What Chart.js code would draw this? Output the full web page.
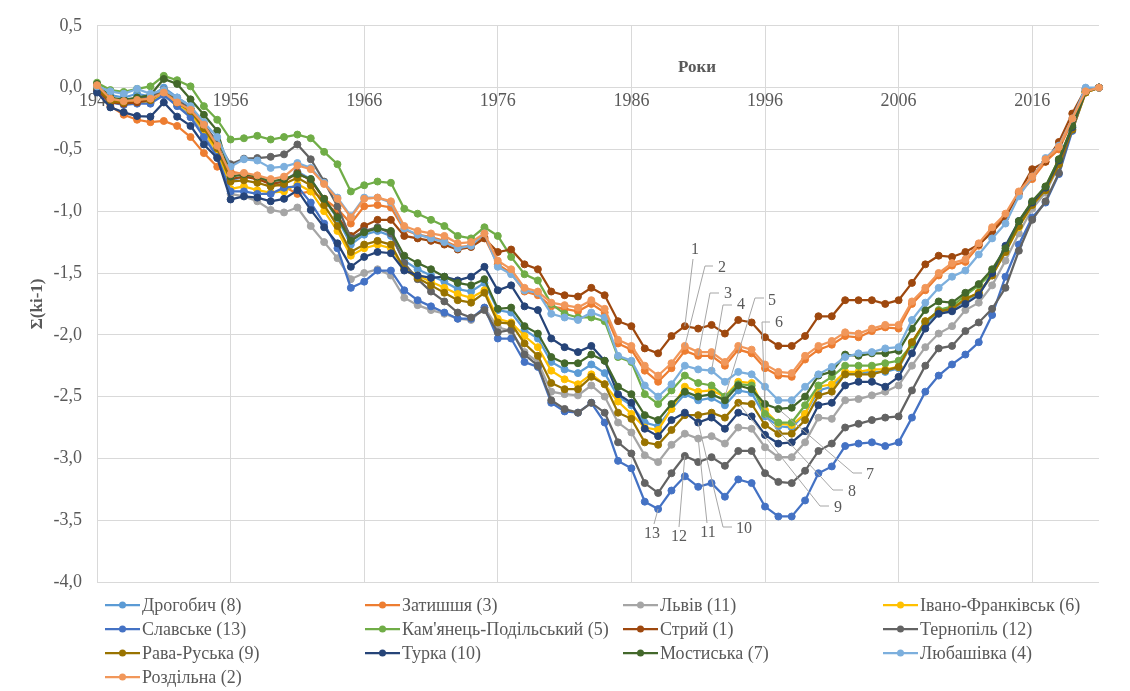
<!DOCTYPE html>
<html lang="uk">
<head>
<meta charset="utf-8">
<title>Σ(ki-1)</title>
<script src="https://cdn.jsdelivr.net/npm/chart.js@4.4.1/dist/chart.umd.min.js"></script>
<style>
  html, body { margin: 0; padding: 0; background: #fff; }
  #wrap { width: 1130px; height: 691px; position: relative; }
</style>
</head>
<body>
<div id="wrap"><canvas id="chart"></canvas></div>
<script>
// years on the category axis
const years = [
  1946, 1947, 1948, 1949, 1950, 1951, 1952, 1953, 1954, 1955,
  1956, 1957, 1958, 1959, 1960, 1961, 1962, 1963, 1964, 1965,
  1966, 1967, 1968, 1969, 1970, 1971, 1972, 1973, 1974, 1975,
  1976, 1977, 1978, 1979, 1980, 1981, 1982, 1983, 1984, 1985,
  1986, 1987, 1988, 1989, 1990, 1991, 1992, 1993, 1994, 1995,
  1996, 1997, 1998, 1999, 2000, 2001, 2002, 2003, 2004, 2005,
  2006, 2007, 2008, 2009, 2010, 2011, 2012, 2013, 2014, 2015,
  2016, 2017, 2018, 2019, 2020, 2021
];

// cumulative sums of (ki-1) per station
const drohobych = [
  0.01, -0.06, -0.08, -0.05, -0.07, 0.00, -0.08, -0.15, -0.30, -0.45,
  -0.75, -0.72, -0.73, -0.78, -0.76, -0.68, -0.74, -0.90, -1.06, -1.27,
  -1.19, -1.16, -1.20, -1.40, -1.47, -1.52, -1.57, -1.63, -1.65, -1.58,
  -1.80, -1.82, -1.96, -2.03, -2.22, -2.28, -2.31, -2.24, -2.31, -2.50,
  -2.57, -2.71, -2.74, -2.60, -2.48, -2.53, -2.51, -2.57, -2.45, -2.47,
  -2.66, -2.74, -2.75, -2.64, -2.45, -2.42, -2.32, -2.31, -2.30, -2.30,
  -2.27, -2.07, -1.91, -1.82, -1.80, -1.72, -1.67, -1.52, -1.32, -1.12,
  -0.94, -0.82, -0.60, -0.33, -0.03, 0.00
];
const zatyshshia = [
  0.02, -0.15, -0.22, -0.26, -0.28, -0.27, -0.31, -0.40, -0.53, -0.64,
  -0.68, -0.70, -0.73, -0.78, -0.80, -0.86, -0.84, -0.90, -0.98, -1.10,
  -0.96, -0.95, -0.97, -1.15, -1.19, -1.21, -1.24, -1.29, -1.28, -1.21,
  -1.43, -1.50, -1.65, -1.68, -1.77, -1.79, -1.81, -1.75, -1.82, -2.07,
  -2.12, -2.29, -2.38, -2.27, -2.13, -2.17, -2.17, -2.25, -2.12, -2.15,
  -2.27, -2.33, -2.34, -2.20, -2.12, -2.08, -2.01, -2.02, -1.97, -1.94,
  -1.95, -1.75, -1.64, -1.52, -1.44, -1.41, -1.28, -1.15, -1.04, -0.86,
  -0.74, -0.60, -0.50, -0.27, -0.04, 0.00
];
const lviv = [
  0.00, -0.10, -0.12, -0.11, -0.12, -0.06, -0.14, -0.22, -0.38, -0.55,
  -0.86, -0.88, -0.92, -0.99, -1.01, -0.97, -1.12, -1.25, -1.38, -1.55,
  -1.50, -1.47, -1.52, -1.70, -1.76, -1.80, -1.83, -1.87, -1.88, -1.78,
  -1.94, -1.97, -2.14, -2.22, -2.46, -2.48, -2.49, -2.41, -2.50, -2.71,
  -2.79, -2.975, -3.03, -2.89, -2.80, -2.84, -2.82, -2.88, -2.75, -2.76,
  -2.91, -2.99, -2.99, -2.87, -2.67, -2.68, -2.53, -2.52, -2.49, -2.46,
  -2.41, -2.25, -2.10, -1.99, -1.93, -1.80, -1.74, -1.60, -1.40, -1.18,
  -0.98, -0.85, -0.63, -0.35, -0.04, 0.00
];
const ivanoFrankivsk = [
  0.00, -0.10, -0.13, -0.11, -0.12, -0.05, -0.13, -0.20, -0.35, -0.52,
  -0.82, -0.80, -0.83, -0.85, -0.84, -0.78, -0.84, -1.00, -1.16, -1.36,
  -1.30, -1.27, -1.30, -1.46, -1.52, -1.57, -1.62, -1.67, -1.70, -1.64,
  -1.87, -1.90, -2.01, -2.10, -2.29, -2.36, -2.40, -2.32, -2.40, -2.54,
  -2.64, -2.75, -2.77, -2.60, -2.42, -2.46, -2.45, -2.50, -2.38, -2.39,
  -2.61, -2.72, -2.73, -2.64, -2.42, -2.40, -2.30, -2.30, -2.28, -2.28,
  -2.26, -2.06, -1.89, -1.81, -1.79, -1.71, -1.66, -1.52, -1.33, -1.13,
  -0.95, -0.83, -0.62, -0.34, -0.04, 0.00
];
const slavske = [
  -0.02, -0.12, -0.14, -0.13, -0.13, -0.06, -0.15, -0.24, -0.40, -0.56,
  -0.84, -0.84, -0.86, -0.86, -0.81, -0.80, -0.93, -1.10, -1.30, -1.62,
  -1.57, -1.48, -1.48, -1.64, -1.72, -1.77, -1.82, -1.87, -1.87, -1.78,
  -2.03, -2.03, -2.22, -2.26, -2.55, -2.62, -2.63, -2.55, -2.71, -3.02,
  -3.08, -3.35, -3.41, -3.26, -3.145, -3.23, -3.20, -3.31, -3.17, -3.20,
  -3.39, -3.47, -3.47, -3.34, -3.12, -3.065, -2.90, -2.88, -2.87, -2.90,
  -2.87, -2.67, -2.46, -2.33, -2.24, -2.16, -2.06, -1.84, -1.53, -1.27,
  -1.05, -0.93, -0.70, -0.35, -0.02, 0.00
];
const kamianets = [
  0.04, -0.02, -0.035, -0.01, 0.01, 0.095, 0.06, 0.01, -0.15, -0.26,
  -0.42, -0.41, -0.39, -0.42, -0.40, -0.38, -0.41, -0.52, -0.62, -0.84,
  -0.79, -0.76, -0.77, -0.98, -1.02, -1.07, -1.12, -1.20, -1.22, -1.13,
  -1.20, -1.37, -1.51, -1.56, -1.75, -1.83, -1.86, -1.86, -1.89, -2.18,
  -2.22, -2.48, -2.56, -2.45, -2.33, -2.39, -2.41, -2.50, -2.40, -2.41,
  -2.64, -2.71, -2.71, -2.57, -2.41, -2.34, -2.25, -2.25, -2.25, -2.23,
  -2.21, -2.08, -1.90, -1.80, -1.77, -1.68, -1.60, -1.50, -1.32, -1.12,
  -0.93, -0.80, -0.58, -0.32, -0.03, 0.00
];
const stryi = [
  -0.02, -0.12, -0.13, -0.12, -0.10, -0.02, -0.12, -0.17, -0.30, -0.45,
  -0.74, -0.72, -0.74, -0.78, -0.76, -0.69, -0.75, -0.90, -1.04, -1.20,
  -1.12, -1.07, -1.07, -1.20, -1.22, -1.24, -1.27, -1.31, -1.29, -1.22,
  -1.33, -1.31, -1.43, -1.47, -1.65, -1.68, -1.69, -1.62, -1.68, -1.89,
  -1.93, -2.11, -2.15, -2.01, -1.93, -1.95, -1.92, -1.99, -1.88, -1.90,
  -2.02, -2.09, -2.09, -2.01, -1.85, -1.85, -1.72, -1.72, -1.72, -1.75,
  -1.72, -1.58, -1.43, -1.36, -1.37, -1.33, -1.27, -1.17, -1.05, -0.85,
  -0.66, -0.60, -0.44, -0.21, -0.01, 0.00
];
const ternopil = [
  -0.01, -0.09, -0.10, -0.09, -0.08, -0.02, -0.10, -0.17, -0.30, -0.44,
  -0.62, -0.575, -0.57, -0.56, -0.54, -0.46, -0.58, -0.76, -0.96, -1.22,
  -1.16, -1.13, -1.18, -1.42, -1.55, -1.65, -1.73, -1.82, -1.86, -1.80,
  -1.98, -1.96, -2.16, -2.25, -2.53, -2.60, -2.63, -2.55, -2.63, -2.87,
  -2.96, -3.20, -3.28, -3.12, -2.98, -3.03, -2.99, -3.06, -2.94, -2.94,
  -3.12, -3.19, -3.20, -3.10, -2.94, -2.88, -2.75, -2.72, -2.69, -2.67,
  -2.66, -2.45, -2.25, -2.11, -2.09, -1.97, -1.90, -1.79, -1.62, -1.32,
  -1.07, -0.92, -0.69, -0.32, -0.01, 0.00
];
const ravaRuska = [
  0.00, -0.11, -0.12, -0.09, -0.10, -0.03, -0.12, -0.19, -0.33, -0.49,
  -0.76, -0.75, -0.77, -0.80, -0.78, -0.73, -0.79, -0.95, -1.12, -1.33,
  -1.27, -1.24, -1.27, -1.47, -1.54, -1.60, -1.66, -1.72, -1.74, -1.66,
  -1.90, -1.91, -2.07, -2.17, -2.39, -2.44, -2.44, -2.34, -2.40, -2.63,
  -2.68, -2.87, -2.89, -2.77, -2.65, -2.65, -2.63, -2.67, -2.55, -2.56,
  -2.73, -2.80, -2.80, -2.69, -2.49, -2.46, -2.32, -2.32, -2.32, -2.29,
  -2.26, -2.06, -1.89, -1.81, -1.79, -1.71, -1.66, -1.52, -1.33, -1.12,
  -0.95, -0.83, -0.62, -0.34, -0.04, 0.00
];
const turka = [
  -0.04, -0.16, -0.20, -0.23, -0.235, -0.12, -0.235, -0.31, -0.46, -0.57,
  -0.905, -0.88, -0.89, -0.92, -0.90, -0.83, -0.99, -1.13, -1.26, -1.45,
  -1.37, -1.33, -1.34, -1.48, -1.52, -1.54, -1.53, -1.56, -1.53, -1.45,
  -1.64, -1.60, -1.77, -1.80, -2.03, -2.10, -2.14, -2.09, -2.21, -2.48,
  -2.55, -2.76, -2.82, -2.69, -2.63, -2.71, -2.67, -2.76, -2.63, -2.66,
  -2.81, -2.88, -2.87, -2.78, -2.57, -2.55, -2.41, -2.38, -2.38, -2.42,
  -2.34, -2.15, -1.95, -1.83, -1.81, -1.75, -1.68, -1.50, -1.28, -1.08,
  -0.93, -0.81, -0.59, -0.32, -0.03, 0.00
];
const mostyska = [
  0.03, -0.08, -0.10, -0.08, -0.06, 0.07, 0.03, -0.095, -0.22, -0.35,
  -0.72, -0.70, -0.72, -0.76, -0.74, -0.70, -0.74, -0.90, -1.05, -1.24,
  -1.17, -1.14, -1.16, -1.36, -1.42, -1.47, -1.53, -1.58, -1.60, -1.55,
  -1.79, -1.78, -1.93, -1.99, -2.18, -2.23, -2.23, -2.16, -2.21, -2.42,
  -2.48, -2.65, -2.69, -2.56, -2.46, -2.50, -2.48, -2.53, -2.41, -2.44,
  -2.56, -2.60, -2.59, -2.50, -2.33, -2.30, -2.16, -2.17, -2.15, -2.15,
  -2.13, -1.95, -1.80, -1.73, -1.74, -1.66, -1.59, -1.47, -1.30, -1.08,
  -0.92, -0.80, -0.58, -0.31, -0.03, 0.00
];
const liubashivka = [
  0.01, -0.03, -0.05, -0.01, -0.05, -0.02, -0.08, -0.15, -0.28, -0.40,
  -0.64, -0.58, -0.59, -0.65, -0.64, -0.61, -0.65, -0.77, -0.89, -1.04,
  -0.89, -0.89, -0.93, -1.14, -1.19, -1.22, -1.25, -1.30, -1.28, -1.18,
  -1.45, -1.51, -1.64, -1.66, -1.83, -1.86, -1.88, -1.82, -1.86, -2.17,
  -2.21, -2.41, -2.50, -2.40, -2.25, -2.28, -2.29, -2.38, -2.30, -2.32,
  -2.42, -2.53, -2.53, -2.42, -2.32, -2.26, -2.18, -2.15, -2.14, -2.11,
  -2.10, -1.88, -1.74, -1.62, -1.53, -1.48, -1.35, -1.22, -1.10, -0.88,
  -0.72, -0.57, -0.47, -0.25, 0.00, 0.00
];
const rozdilna = [
  0.02, -0.09, -0.11, -0.10, -0.09, -0.04, -0.12, -0.18, -0.30, -0.47,
  -0.70, -0.69, -0.71, -0.74, -0.72, -0.63, -0.66, -0.78, -0.90, -1.05,
  -0.90, -0.89, -0.92, -1.12, -1.16, -1.18, -1.20, -1.26, -1.25, -1.18,
  -1.40, -1.47, -1.62, -1.65, -1.74, -1.76, -1.78, -1.72, -1.79, -2.04,
  -2.09, -2.25, -2.33, -2.23, -2.09, -2.14, -2.14, -2.22, -2.09, -2.12,
  -2.24, -2.30, -2.31, -2.17, -2.09, -2.05, -1.98, -1.99, -1.95, -1.92,
  -1.92, -1.73, -1.62, -1.50, -1.42, -1.39, -1.26, -1.13, -1.02, -0.84,
  -0.72, -0.58, -0.48, -0.25, -0.03, 0.00
];

const seriesNames = [
  'Дрогобич (8)', 'Затишшя (3)', 'Львів (11)', 'Івано-Франківськ (6)',
  'Славське (13)', "Кам'янець-Подільський (5)", 'Стрий (1)', 'Тернопіль (12)',
  'Рава-Руська (9)', 'Турка (10)', 'Мостиська (7)', 'Любашівка (4)',
  'Роздільна (2)'
];
const seriesValues = [
  drohobych, zatyshshia, lviv, ivanoFrankivsk,
  slavske, kamianets, stryi, ternopil,
  ravaRuska, turka, mostyska, liubashivka,
  rozdilna
];
const seriesColors = [
  '#5B9BD5', '#ED7D31', '#A5A5A5', '#FFC000',
  '#4472C4', '#70AD47', '#9E480E', '#636363',
  '#997300', '#264478', '#43682B', '#7CAFDD',
  '#F1975A'
];

// numbered call-outs: label position, leader start and optional stub end
const callouts = [
  { text: '1', series: stryi, year: 1990, tx: 695, ty: 250, sx: 693, sy: 259 },
  { text: '2', series: rozdilna, year: 1990, tx: 722, ty: 268, sx: 705, sy: 266, hx: 713 },
  { text: '3', series: zatyshshia, year: 1991, tx: 728, ty: 294, sx: 710, sy: 293, hx: 719 },
  { text: '4', series: liubashivka, year: 1992, tx: 741, ty: 305, sx: 723, sy: 305, hx: 732 },
  { text: '5', series: kamianets, year: 1993, tx: 772, ty: 301, sx: 755, sy: 298, hx: 764 },
  { text: '6', series: ivanoFrankivsk, year: 1996, tx: 779, ty: 323, sx: 762, sy: 322, hx: 770 },
  { text: '7', series: mostyska, year: 1997, tx: 870, ty: 475, sx: 853, sy: 473, hx: 862 },
  { text: '8', series: drohobych, year: 1996, tx: 852, ty: 492, sx: 833, sy: 490, hx: 843 },
  { text: '9', series: ravaRuska, year: 1994, tx: 838, ty: 508, sx: 820, sy: 506, hx: 829 },
  { text: '10', series: turka, year: 1991, tx: 744, ty: 529, sx: 723, sy: 527, hx: 732 },
  { text: '11', series: lviv, year: 1991, tx: 708, ty: 533, sx: 707, sy: 523 },
  { text: '12', series: ternopil, year: 1990, tx: 679, ty: 537, sx: 679, sy: 527 },
  { text: '13', series: slavske, year: 1988, tx: 652, ty: 534, sx: 654, sy: 524 }
];

const FONT = "'Liberation Serif', 'Times New Roman', serif";
const TEXT = '#595959';
const GRID = '#d9d9d9';

const calloutPlugin = {
  id: 'callouts',
  afterDatasetsDraw(chart) {
    const { ctx, scales: { x, y } } = chart;
    ctx.save();
    ctx.strokeStyle = '#a6a6a6';
    ctx.lineWidth = 1;
    ctx.fillStyle = TEXT;
    ctx.font = '16px ' + FONT;
    ctx.textAlign = 'center';
    ctx.textBaseline = 'middle';
    callouts.forEach(c => {
      const i = years.indexOf(c.year);
      const px = x.getPixelForValue(i);
      const py = y.getPixelForValue(c.series[i]);
      ctx.beginPath();
      ctx.moveTo(px, py);
      ctx.lineTo(c.sx, c.sy);
      if (c.hx) ctx.lineTo(c.hx, c.sy);
      ctx.stroke();
      ctx.fillText(c.text, c.tx, c.ty);
    });
    ctx.restore();
  }
};

// axis title above the category labels and the 4-column legend
const textPlugin = {
  id: 'texts',
  afterDraw(chart) {
    const { ctx } = chart;
    ctx.save();
    ctx.fillStyle = TEXT;
    ctx.font = 'bold 17px ' + FONT;
    ctx.textAlign = 'center';
    ctx.textBaseline = 'middle';
    ctx.fillText('Роки', 697, 68);

    const colX = [105, 365, 623, 883];
    const rowY = [605, 629, 653, 677];
    ctx.font = '18px ' + FONT;
    ctx.textAlign = 'left';
    seriesNames.forEach((name, i) => {
      const x0 = colX[i % 4];
      const y0 = rowY[Math.floor(i / 4)];
      ctx.strokeStyle = seriesColors[i];
      ctx.lineWidth = 2.25;
      ctx.beginPath();
      ctx.moveTo(x0, y0);
      ctx.lineTo(x0 + 35, y0);
      ctx.stroke();
      ctx.fillStyle = seriesColors[i];
      ctx.beginPath();
      ctx.arc(x0 + 17.5, y0, 3.5, 0, Math.PI * 2);
      ctx.fill();
      ctx.fillStyle = TEXT;
      ctx.fillText(name, x0 + 37, y0 + 1);
    });
    ctx.restore();
  }
};

const datasets = seriesNames.map((name, i) => ({
  label: name,
  data: seriesValues[i],
  borderColor: seriesColors[i],
  backgroundColor: seriesColors[i],
  borderWidth: 2.25,
  pointRadius: 3.5,
  pointBorderWidth: 1,
  pointBackgroundColor: seriesColors[i],
  pointBorderColor: seriesColors[i],
  tension: 0,
  clip: false,
  order: seriesNames.length - i
}));

new Chart(document.getElementById('chart'), {
  type: 'line',
  data: { labels: years, datasets },
  options: {
    responsive: true,
    maintainAspectRatio: false,
    animation: false,
    layout: { padding: { left: 0, top: 25, right: 31, bottom: 109 } },
    plugins: {
      legend: { display: false },
      tooltip: { enabled: false }
    },
    scales: {
      x: {
        type: 'category',
        position: { y: 0 },
        offset: false,
        afterBuildTicks: axis => {
          axis.ticks = axis.ticks.filter(t => t.value % 10 === 0);
        },
        grid: { color: GRID, drawTicks: false },
        border: { color: GRID },
        ticks: {
          autoSkip: false,
          maxRotation: 0,
          padding: 3,
          color: TEXT,
          font: { family: FONT, size: 18 }
        }
      },
      y: {
        min: -4,
        max: 0.5,
        afterFit: axis => { axis.width = 97; },
        grid: { color: GRID, drawTicks: false },
        border: { display: false },
        ticks: {
          stepSize: 0.5,
          padding: 15,
          color: TEXT,
          font: { family: FONT, size: 18 },
          callback: v => v.toFixed(1).replace('.', ',')
        },
        title: {
          display: true,
          text: 'Σ(ki-1)',
          color: TEXT,
          font: { family: FONT, size: 17, weight: 'bold' },
          padding: { top: 27, bottom: 0 }
        }
      }
    }
  },
  plugins: [calloutPlugin, textPlugin]
});
</script>
</body>
</html>
